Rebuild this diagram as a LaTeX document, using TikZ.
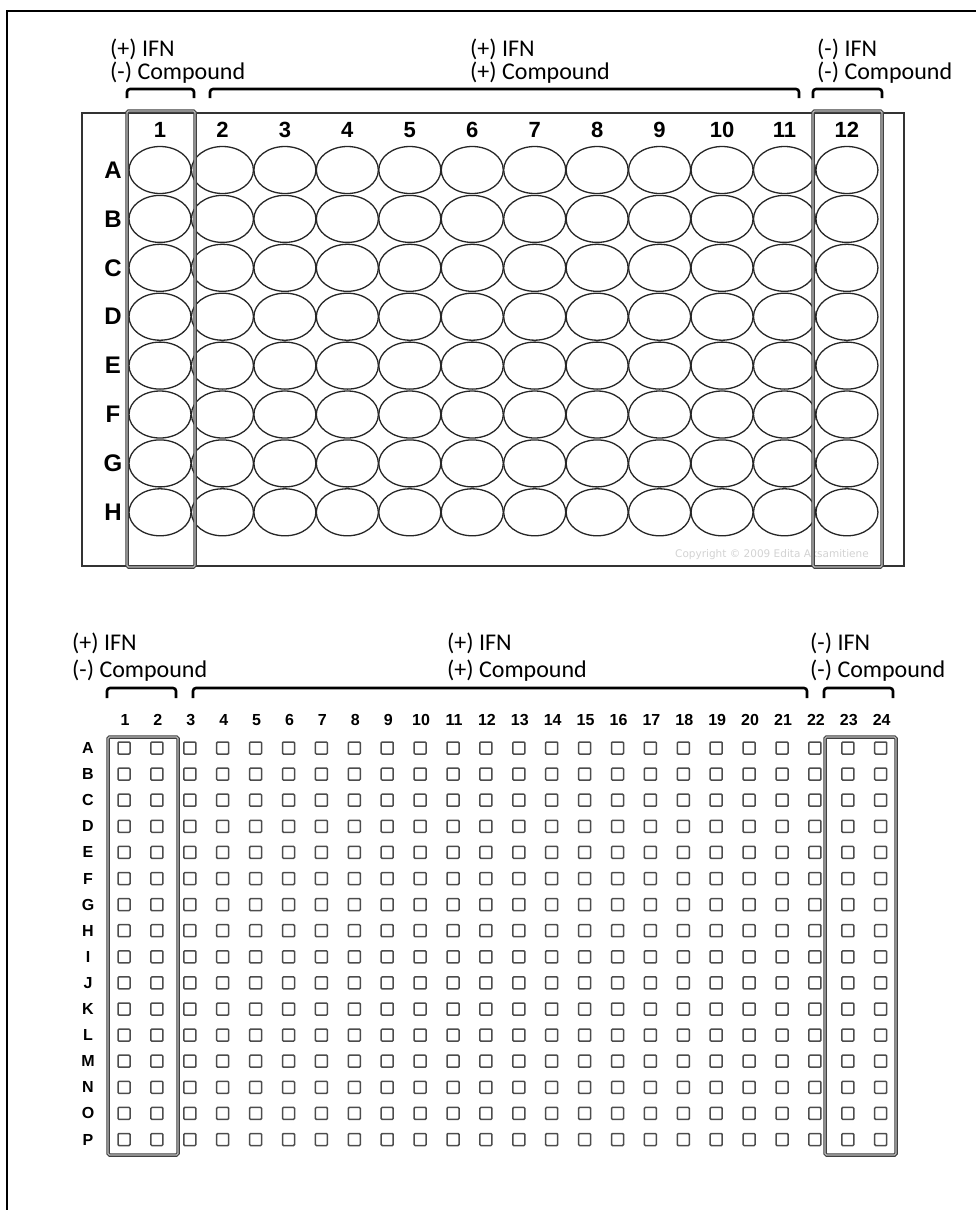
\documentclass[tikz,border=0pt]{standalone}
\usepackage{fontspec}
\usepackage{tikz}
\usetikzlibrary{shapes.geometric}
\setmainfont{Carlito}
\newfontfamily\platefont{Liberation Sans}
\newfontfamily\cpfont{DejaVu Sans}

\begin{document}
\begin{tikzpicture}[x=1pt,y=-1pt,
  well/.style={ellipse,draw=black!85,line width=1.3pt,minimum width=62pt,minimum height=47pt,inner sep=0pt},
  sq/.style={rectangle,draw=black!70,line width=1.5pt,rounded corners=1pt,minimum size=12pt,inner sep=0pt},
  hbox/.style={draw=black!75,line width=1.1pt,double=gray!55,double distance=1.3pt,rounded corners=1.5pt},
  brk/.style={line width=2.6pt,rounded corners=3pt},
  lbl/.style={anchor=base west,inner sep=0pt,font=\fontsize{24}{24}\selectfont},
  bighd/.style={font=\platefont\bfseries\fontsize{22}{22}\selectfont,inner sep=0pt},
  rowhd/.style={font=\platefont\bfseries\fontsize{24}{24}\selectfont,inner sep=0pt},
  smallhd/.style={font=\platefont\bfseries\fontsize{16}{16}\selectfont,inner sep=0pt}]
  \useasboundingbox (0,0) rectangle (976,1210);
  \draw[line width=1.3pt] (7,1210) -- (7,11) -- (976,11);
  % labels
  \foreach \x/\y/\d/\a/\b [count=\k] in {110/56/23/+/-, 470/56/23/+/+, 817/56/23/-/-,
                                         72/650/27/+/-, 447/650/27/+/+, 810/650/27/-/-} {
    \node[lbl] (ifn\k) at (\x,\y) {(\a) IFN};
    \node[lbl] (cpd\k) at (\x,\y+\d) {(\b) Compound};
  }
  % 96-well plate
  \coordinate (p1) at (82,113); \coordinate (p2) at (904,566);
  \draw[draw=black!80,line width=1.4pt] (p1) rectangle (p2);
  \node[text=gray!35,font=\cpfont\fontsize{10.5}{10.5}\selectfont,anchor=west,inner sep=0pt] (copy) at (675,555) {Copyright \textcopyright{} 2009 Edita Aksamitiene};
  \foreach \c in {1,...,12}
    \node[bighd] (tc\c) at ({160+62.45*(\c-1)},130) {\c};
  \foreach \r [count=\i] in {A,B,C,D,E,F,G,H} {
    \node[rowhd] (tr\r) at (113,{170+48.9*(\i-1)}) {\r};
    \foreach \c in {1,...,12}
      \node[well] (t\r\c) at ({160+62.45*(\c-1)},{170+48.9*(\i-1)}) {};
  }
  \coordinate (ta) at (127,111); \coordinate (tb) at (195,567);
  \coordinate (tc) at (813,111); \coordinate (td) at (882,567);
  \draw[hbox] (ta) rectangle (tb);
  \draw[hbox] (tc) rectangle (td);
  \draw[brk] (127,98) -- (127,89) -- (194,89) -- (194,98);
  \draw[brk] (210,98) -- (210,89) -- (799,89) -- (799,98);
  \draw[brk] (813,98) -- (813,89) -- (882,89) -- (882,98);
  % 384-well plate
  \foreach \c in {1,...,24}
    \node[smallhd] (bc\c) at ({125+32.9*(\c-1)},720) {\c};
  \foreach \r [count=\i] in {A,B,C,D,E,F,G,H,I,J,K,L,M,N,O,P} {
    \node[smallhd] (br\r) at (88,{748+26.1*(\i-1)}) {\r};
    \foreach \c in {1,...,24}
      \node[sq] (b\r\c) at ({124+32.9*(\c-1)},{748+26.1*(\i-1)}) {};
  }
  \coordinate (ba) at (108,737); \coordinate (bb) at (178,1155);
  \coordinate (bc) at (825,737); \coordinate (bd) at (896,1155);
  \draw[hbox] (ba) rectangle (bb);
  \draw[hbox] (bc) rectangle (bd);
  \draw[brk] (107,698) -- (107,688) -- (176,688) -- (176,698);
  \draw[brk] (193,698) -- (193,688) -- (807,688) -- (807,698);
  \draw[brk] (824,698) -- (824,688) -- (893,688) -- (893,698);
\end{tikzpicture}
\end{document}
